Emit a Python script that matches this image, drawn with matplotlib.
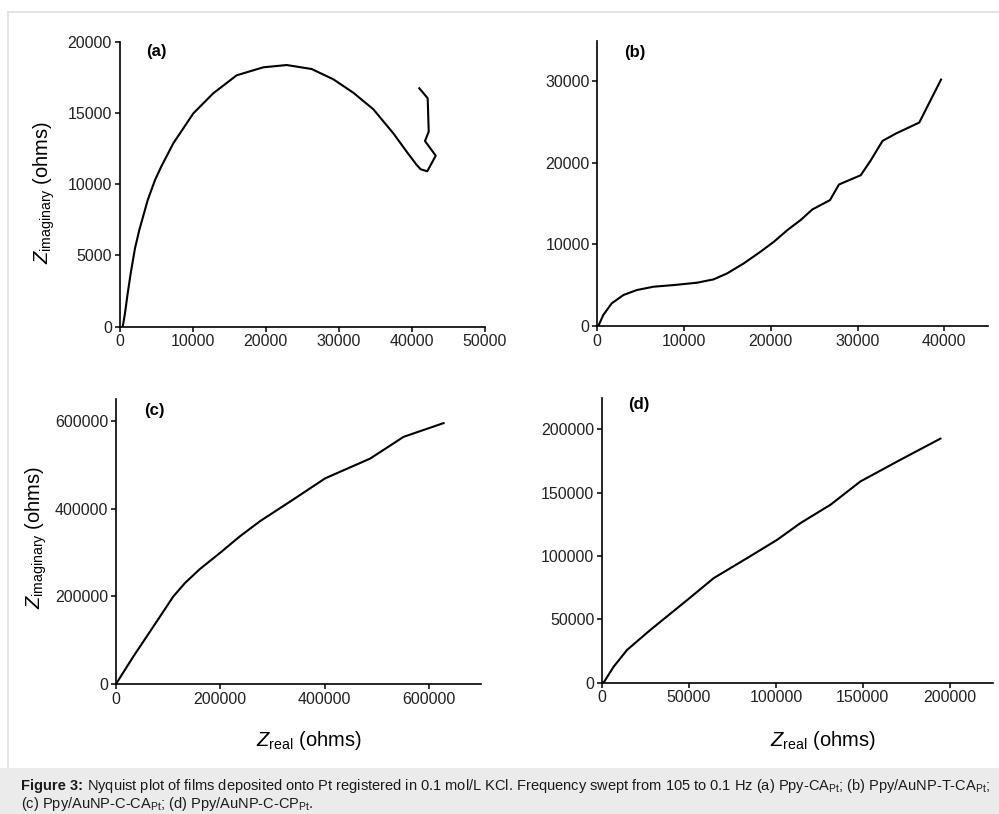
import matplotlib
matplotlib.use("Agg")
import matplotlib.pyplot as plt
from matplotlib.patches import Rectangle
from matplotlib.lines import Line2D

plt.rcParams['font.family'] = ['Liberation Sans', 'DejaVu Sans']
plt.rcParams['mathtext.fontset'] = 'custom'
plt.rcParams['mathtext.rm'] = 'Liberation Sans'
plt.rcParams['mathtext.it'] = 'Liberation Sans:italic'
plt.rcParams['mathtext.bf'] = 'Liberation Sans:bold'

# (a) Ppy-CA_Pt
a_zreal = [440, 752, 1120, 1530, 2120, 2710, 3860, 4860, 5770, 7360, 8730, 10100,
           12830, 16030, 19670, 22870, 26290, 29250, 31980, 34720, 37460, 39290,
           40660, 41200, 42100, 43260, 41790, 42300, 42160, 41010]
a_zimag = [0, 940, 2340, 3740, 5500, 6780, 8880, 10290, 11290, 12860, 13910, 14960,
           16370, 17630, 18190, 18350, 18070, 17350, 16410, 15250, 13560, 12270,
           11340, 11040, 10900, 11990, 13020, 13680, 16020, 16720]

# (b) Ppy/AuNP-T-CA_Pt
b_zreal = [115, 690, 1660, 3010, 4550, 6480, 8790, 11490, 13410, 14960, 16880,
           18810, 20350, 21900, 23430, 24790, 26820, 27860, 30370, 31530, 32880,
           34420, 37110, 39620]
b_zimag = [0, 1350, 2780, 3800, 4410, 4820, 5020, 5310, 5720, 6450, 7680,
           9110, 10330, 11760, 12990, 14300, 15440, 17360, 18500, 20340, 22710,
           23610, 24960, 30230]

# (c) Ppy/AuNP-C-CA_Pt
c_zreal = [0, 33200, 58900, 84500, 110000, 132400, 161200, 199600, 238000,
           276400, 340300, 401200, 487500, 551500, 628200]
c_zimag = [0, 62600, 108400, 154200, 200000, 230700, 262800, 299400, 337500,
           371900, 421500, 469600, 514700, 564300, 595600]

# (d) Ppy/AuNP-C-CP_Pt
d_zreal = [900, 6700, 14400, 27800, 49800, 64200, 83400, 100700, 114100,
           131400, 148600, 171600, 194600]
d_zimag = [0, 12650, 25850, 41660, 66170, 82530, 98340, 112800, 126000,
           140500, 158900, 176000, 192700]

a_xticks = [0, 10000, 20000, 30000, 40000, 50000]
a_yticks = [0, 5000, 10000, 15000, 20000]
b_xticks = [0, 10000, 20000, 30000, 40000]
b_yticks = [0, 10000, 20000, 30000]
c_xticks = [0, 200000, 400000, 600000]
c_yticks = [0, 200000, 400000, 600000]
d_xticks = [0, 50000, 100000, 150000, 200000]
d_yticks = [0, 50000, 100000, 150000, 200000]

W, H = 999, 814
fig = plt.figure(figsize=(W / 100, H / 100), dpi=100)
fig.patch.set_facecolor('white')


def px_axes(left, right, top, bottom):
    return fig.add_axes([left / W, 1 - bottom / H, (right - left) / W, (bottom - top) / H])


panels = [
    (px_axes(119.5, 485, 41.5, 326.7), a_zreal, a_zimag, a_xticks, a_yticks,
     (0, 50000), (0, 20000), '(a)', (0.10, 0.965)),
    (px_axes(597.3, 987.7, 40.7, 326), b_zreal, b_zimag, b_xticks, b_yticks,
     (0, 45000), (0, 35000), '(b)', (0.097, 0.96)),
    (px_axes(116, 481, 399.3, 684), c_zreal, c_zimag, c_xticks, c_yticks,
     (0, 700000), (0, 650000), '(c)', (0.104, 0.962)),
    (px_axes(602, 993.3, 397.7, 682.7), d_zreal, d_zimag, d_xticks, d_yticks,
     (0, 225000), (0, 225000), '(d)', (0.095, 0.975)),
]

for ax, xs, ys, xt, yt, xl, yl, tag, tagpos in panels:
    ax.plot(xs, ys, color='black', lw=1.5, solid_joinstyle='round')
    ax.set_xlim(*xl)
    ax.set_ylim(*yl)
    ax.set_xticks(xt)
    ax.set_yticks(yt)
    ax.set_xticklabels([str(v) for v in xt])
    ax.set_yticklabels([str(v) for v in yt])
    for s in ('top', 'right'):
        ax.spines[s].set_visible(False)
    for s in ('left', 'bottom'):
        ax.spines[s].set_linewidth(1.2)
        ax.spines[s].set_color('black')
    ax.tick_params(direction='out', length=3.5, width=1.1, labelsize=11.5,
                   colors='black', labelcolor='#222222', pad=2)
    ax.set_facecolor('none')
    ax.text(tagpos[0], tagpos[1], tag, transform=ax.transAxes, fontsize=12,
            fontweight='bold', ha='center', va='center')

# axis titles
ylab = r'$\mathit{Z}_{\mathrm{imaginary}}$ (ohms)'
xlab = r'$\mathit{Z}_{\mathrm{real}}$ (ohms)'
fig.text(44 / W, 1 - 192 / H, ylab, rotation=90, ha='center', va='center', fontsize=14.5)
fig.text(36 / W, 1 - 537 / H, ylab, rotation=90, ha='center', va='center', fontsize=14.5)
fig.text(309 / W, 1 - 740 / H, xlab, ha='center', va='center', fontsize=14.5)
fig.text(823 / W, 1 - 740 / H, xlab, ha='center', va='center', fontsize=14.5)

# frame and caption band
fig.add_artist(Line2D([8 / W, 1], [1 - 12 / H, 1 - 12 / H], color='#dedede', lw=1.2,
                      transform=fig.transFigure))
fig.add_artist(Line2D([8 / W, 8 / W], [1 - 12 / H, 1 - 768 / H], color='#dedede', lw=1.2,
                      transform=fig.transFigure))
fig.add_artist(Rectangle((0, 0), 1, 1 - 768 / H, transform=fig.transFigure,
                         facecolor='#ebebeb', edgecolor='none', zorder=0))

# caption: bold lead-in followed by the regular text
cap_y1 = 1 - 786 / H
cap_y2 = 1 - 804 / H
lead = fig.text(21 / W, cap_y1, 'Figure 3:', ha='left', va='center', fontsize=10.5,
                fontweight='bold', color='#1a1a1a')
renderer = fig.canvas.get_renderer()
lead_end = lead.get_window_extent(renderer).x1
cap1 = (r' Nyquist plot of films deposited onto Pt registered in 0.1 mol/L KCl. '
        r'Frequency swept from 105 to 0.1 Hz (a) Ppy-CA$_{\mathrm{Pt}}$; (b) Ppy/AuNP-T-CA$_{\mathrm{Pt}}$;')
cap2 = r'(c) Ppy/AuNP-C-CA$_{\mathrm{Pt}}$; (d) Ppy/AuNP-C-CP$_{\mathrm{Pt}}$.'
fig.text(lead_end / W, cap_y1, cap1, ha='left', va='center', fontsize=10.5,
         color='#1a1a1a')
fig.text(21 / W, cap_y2, cap2, ha='left', va='center', fontsize=10.5, color='#1a1a1a')

fig.savefig('out.png', dpi=100)
